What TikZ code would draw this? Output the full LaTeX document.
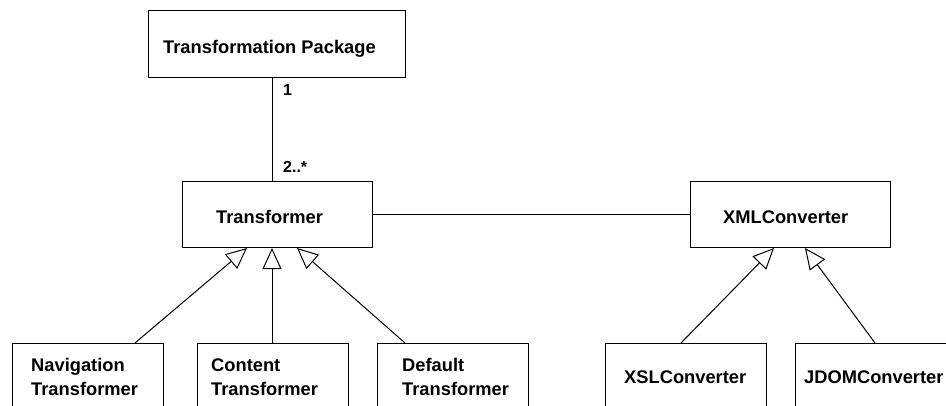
\documentclass[tikz,border=0pt]{standalone}
\usepackage{fontspec}
\setmainfont{Liberation Sans}
\usetikzlibrary{arrows.meta,calc}
\begin{document}
\begin{tikzpicture}[x=1pt,y=-1pt,
  box/.style={draw,line width=1pt,rectangle,inner sep=0pt,anchor=north west},
  txt/.style={anchor=base west,inner sep=0pt,font=\fontsize{18.3}{24}\selectfont\bfseries,align=left},
  lbl/.style={anchor=base west,inner sep=0pt,font=\fontsize{16}{20}\selectfont\bfseries},
  conn/.style={line width=1pt},
  gen/.style={line width=1pt,-{Triangle[open,length=21pt,width=19pt,line width=1pt]}}]
\path[use as bounding box,clip] (0,0) rectangle (946,405);
% boxes
\node[box,minimum width=257pt,minimum height=67pt] (pkg) at (148,10) {};
\node[box,minimum width=190pt,minimum height=66pt] (tr) at (182,181) {};
\node[box,minimum width=200pt,minimum height=66pt] (xml) at (690,181) {};
\node[box,minimum width=151pt,minimum height=67pt] (nav) at (12,343) {};
\node[box,minimum width=151pt,minimum height=67pt] (con) at (197,343) {};
\node[box,minimum width=151pt,minimum height=67pt] (def) at (377,343) {};
\node[box,minimum width=161pt,minimum height=67pt] (xsl) at (605,343) {};
\node[box,minimum width=161pt,minimum height=67pt] (jdom) at (795,343) {};
% texts
\node[txt] (tpkg) at (163,53) {Transformation Package};
\node[txt] (ttr) at (216,223) {Transformer};
\node[txt] (txml) at (723,223) {XMLConverter};
\node[txt] (tnav) at (31,395) {Navigation\\Transformer};
\node[txt] (tcon) at (211,395) {Content\\Transformer};
\node[txt] (tdef) at (402,395) {Default\\Transformer};
\node[txt] (txsl) at (624,383) {XSLConverter};
\node[txt] (tjdom) at (804,383) {JDOMConverter};
% multiplicities
\node[lbl] (m1) at (283,95) {1};
\node[lbl] (m2) at (283,172) {2..*};
% connectors
\draw[conn] ($(pkg.south west)+(124,0)$) -- ($(tr.north west)+(90,0)$);
\draw[conn] (tr.east) -- (xml.west);
\draw[gen] ($(nav.north west)+(123,0)$) -- ($(tr.south west)+(65,0)$);
\draw[gen] ($(con.north west)+(75,0)$) -- ($(tr.south west)+(90,0)$);
\draw[gen] ($(def.north west)+(28,0)$) -- ($(tr.south west)+(115,0)$);
\draw[gen] ($(xsl.north west)+(76,0)$) -- ($(xml.south west)+(84,0)$);
\draw[gen] ($(jdom.north west)+(80,0)$) -- ($(xml.south west)+(115,0)$);
\end{tikzpicture}
\end{document}
